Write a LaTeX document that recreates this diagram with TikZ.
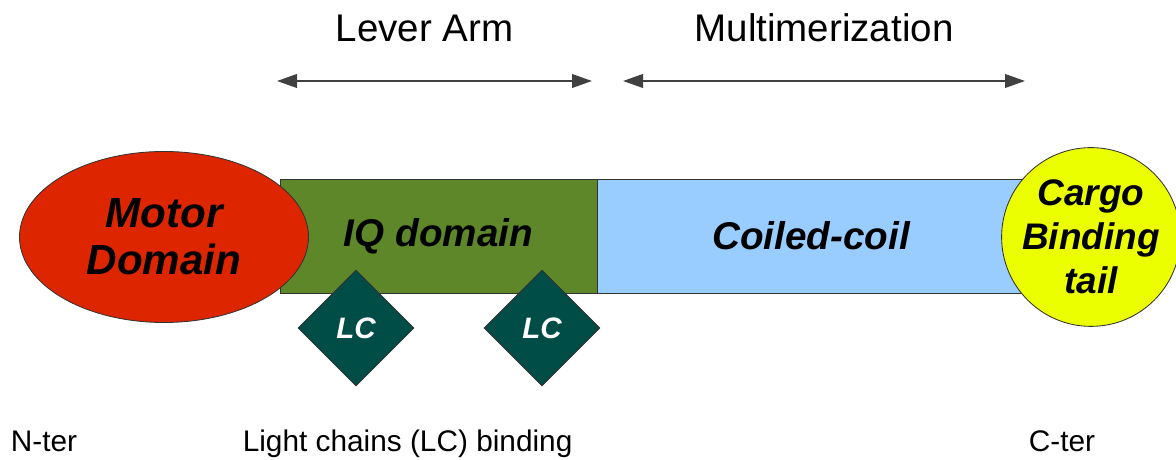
\documentclass[tikz,border=0pt]{standalone}
\usepackage{fontspec}
\setmainfont{Liberation Sans}
\usetikzlibrary{shapes.geometric,arrows.meta}
\definecolor{motorred}{RGB}{221,38,0}
\definecolor{iqgreen}{RGB}{94,135,42}
\definecolor{coilblue}{RGB}{153,204,255}
\definecolor{cargoyellow}{RGB}{235,255,0}
\definecolor{lcteal}{RGB}{0,76,70}
\tikzset{
  part/.style={draw=black!80, line width=0.6pt, inner sep=0pt, align=center, font=\fontsize{27.5}{31}\selectfont\bfseries\itshape},
  lcbox/.style={diamond, draw=black!80, line width=0.6pt, fill=lcteal, minimum size=2.9cm, inner sep=0pt, text=white, font=\fontsize{21}{24}\selectfont\bfseries\itshape},
  span/.style={draw=black!75, line width=1.4pt, {Triangle[length=5mm,width=3.4mm]}-{Triangle[length=5mm,width=3.4mm]}},
  title/.style={anchor=base, font=\fontsize{27.4}{30}\selectfont},
  tag/.style={anchor=base, inner sep=0pt, font=\fontsize{21.2}{24}\selectfont}
}
\begin{document}
\begin{tikzpicture}
\useasboundingbox (0,0) rectangle (29.4,11.5);
\node[part, rectangle, fill=coilblue, minimum width=10.7cm, minimum height=2.85cm] (cc) at (20.275,5.6) {Coiled-coil};
\node[part, rectangle, fill=iqgreen, minimum width=7.925cm, minimum height=2.85cm] (iq) at (10.9625,5.6) {IQ domain};
\node[part, ellipse, fill=motorred, minimum width=7.225cm, minimum height=4.275cm, font=\fontsize{30}{33.4}\selectfont\bfseries\itshape] (md) at (4.1,5.575) {Motor\\Domain};
\node[part, circle, fill=cargoyellow, minimum size=4.3cm, font=\fontsize{26.3}{31.3}\selectfont\bfseries\itshape] (cb) at (27.275,5.575) {Cargo\\Binding\\tail};
\node[lcbox] (lc1) at (8.9,3.3) {LC};
\node[lcbox] (lc2) at (13.55,3.3) {LC};
% spans above the chain
\coordinate (la1) at (6.925,9.475);
\coordinate (la2) at (14.8,9.475);
\coordinate (mu1) at (15.575,9.475);
\coordinate (mu2) at (25.625,9.475);
\draw[span] (la1) -- (la2);
\draw[span] (mu1) -- (mu2);
\node[title] (lever) at (10.6125,10.45) {Lever Arm};
\node[title] (multi) at (20.6,10.45) {Multimerization};
% ends and binding
\node[tag] (nter) at (1.1,0.2) {N-ter};
\node[tag] (lcb) at (10.19,0.2) {Light chains (LC) binding};
\node[tag] (cter) at (26.55,0.2) {C-ter};
\end{tikzpicture}
\end{document}
